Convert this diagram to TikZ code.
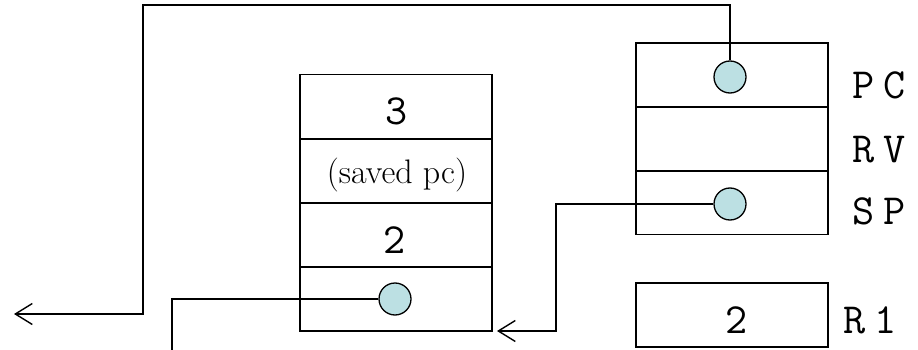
\documentclass[tikz,border=0pt]{standalone}
\usepackage{fontspec}
\usetikzlibrary{arrows.meta}
\definecolor{dotfill}{RGB}{188,224,227}
\newcommand{\lsp}{\kern9pt}
\tikzset{
  cell/.style={draw, line width=1.8pt, minimum width=192pt, minimum height=64pt, inner sep=0pt, outer sep=0pt},
  dot/.style={circle, draw, line width=1.3pt, fill=dotfill, minimum size=32pt, inner sep=0pt},
  wire/.style={line width=1.4pt},
  tip/.style={wire, -{Straight Barb[length=17pt,width=21pt,line width=1.4pt]}},
  mono/.style={font=\ttfamily\fontsize{43}{43}\selectfont, inner sep=0pt},
  small/.style={font=\fontsize{34}{34}\selectfont, inner sep=0pt}
}
\begin{document}
\begin{tikzpicture}[x=1pt,y=-1pt]
\useasboundingbox (0,0) rectangle (918,350);
% stack
\node[cell] (s1) at (396,106.5) {};
\node[cell] (s2) at (396,171) {};
\node[cell] (s3) at (396,235) {};
\node[cell] (s4) at (396,299) {};
\node[mono] (t3) at (397,111) {3};
\node[small] (tsaved) at (397,175) {(saved pc)};
\node[mono] (t2) at (395,240) {2};
% registers
\node[cell] (pc) at (732,75) {};
\node[cell] (rv) at (732,139) {};
\node[cell] (sp) at (732,202.5) {};
\node[cell] (r1) at (732,315) {};
\node[mono] (tr1) at (737,320) {2};
\node[mono] (lpc) at (879,85.5) {P\lsp C};
\node[mono] (lrv) at (879,149.5) {R\lsp V};
\node[mono] (lsp) at (879,211.5) {S\lsp P};
\node[mono] (lr1) at (870,320) {R\lsp 1};
% dots
\node[dot] (dpc) at (730,77) {};
\node[dot] (dsp) at (730,204) {};
\node[dot] (dst) at (395,299) {};
% wire ends
\coordinate (e1) at (14,314);
\coordinate (e2) at (497,331);
\coordinate (e3) at (172,350);
\draw[tip] (dpc.north) -- (730,5) -- (143,5) -- (143,314) -- (e1);
\draw[tip] (dsp.west) -- (556,204) -- (556,331) -- (e2);
\draw[wire] (dst.west) -- (172,299) -- (e3);
\end{tikzpicture}
\end{document}
